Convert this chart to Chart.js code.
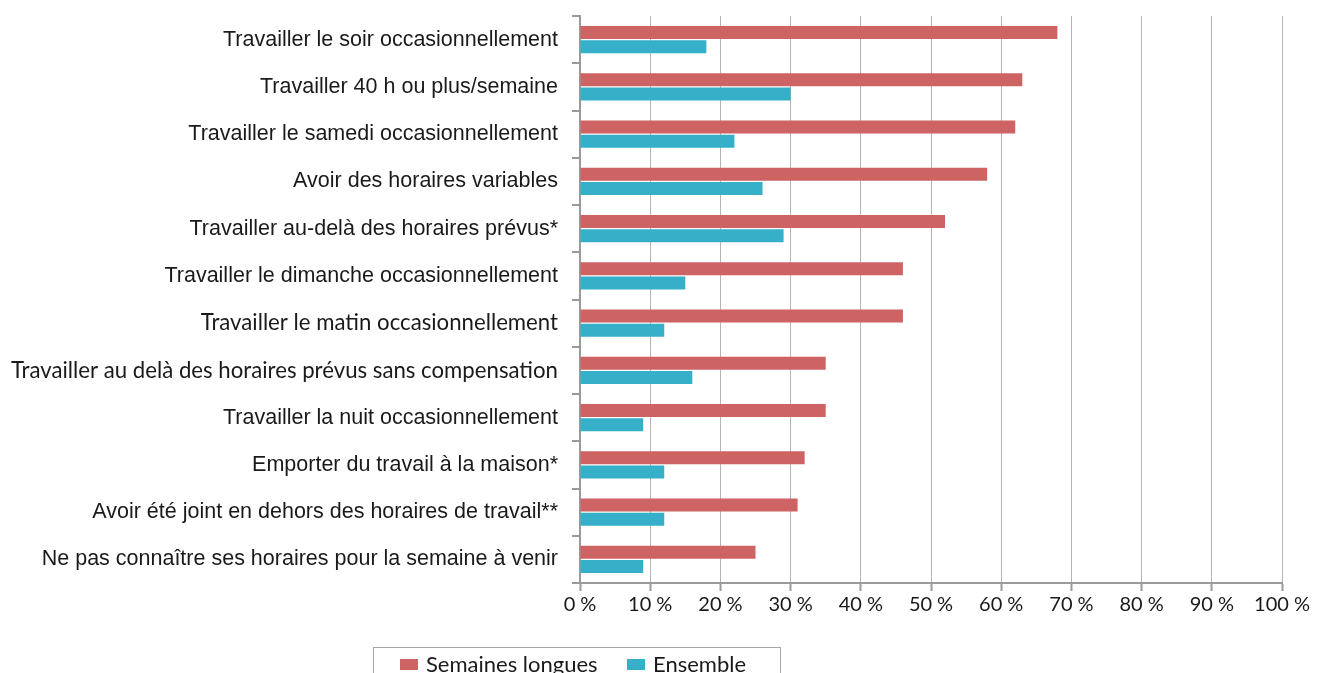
<!DOCTYPE html>
<html>
<head>
<meta charset="utf-8">
<script src="https://cdn.jsdelivr.net/npm/chart.js@4.4.1/dist/chart.umd.min.js"></script>
<style>
  html, body { margin: 0; padding: 0; background: #fff; }
  #wrap { position: relative; width: 1317px; height: 673px; overflow: hidden; }
  #legend {
    position: absolute; left: 373px; top: 647px; width: 408px; height: 40px;
    border: 1px solid #a6a6a6; box-sizing: border-box;
    font-family: Lato, sans-serif; font-size: 22px; color: #1a1a1a;
  }
  #legend span.item { position: absolute; top: 2px; white-space: nowrap; }
  #legend i { display: inline-block; width: 18px; height: 11px; margin-right: 8px; vertical-align: 2px; }
</style>
</head>
<body>
<div id="wrap">
  <canvas id="chart" width="1317" height="673"></canvas>
  <div id="legend"></div>
</div>
<script>
const categories = [
  'Travailler le soir occasionnellement',
  'Travailler 40 h ou plus/semaine',
  'Travailler le samedi occasionnellement',
  'Avoir des horaires variables',
  'Travailler au-delà des horaires prévus*',
  'Travailler le dimanche occasionnellement',
  'Travailler le matin occasionnellement',
  'Travailler au delà des horaires prévus sans compensation',
  'Travailler la nuit occasionnellement',
  'Emporter du travail à la maison*',
  'Avoir été joint en dehors des horaires de travail**',
  'Ne pas connaître ses horaires pour la semaine à venir'
];
const semainesLongues = [68, 63, 62, 58, 52, 46, 46, 35, 35, 32, 31, 25];
const ensemble = [18, 30, 22, 26, 29, 15, 12, 16, 9, 12, 12, 9];
const xTicks = [0, 10, 20, 30, 40, 50, 60, 70, 80, 90, 100];
// two labels were typed in another font in the source
const otherFont = [6, 7];

const datasets = [
  { label: 'Semaines longues', data: semainesLongues, backgroundColor: '#cd6363' },
  { label: 'Ensemble', data: ensemble, backgroundColor: '#35b0c8' }
];

new Chart(document.getElementById('chart'), {
  type: 'bar',
  data: { labels: categories, datasets: datasets },
  options: {
    indexAxis: 'y',
    responsive: false,
    animation: false,
    categoryPercentage: 0.6,
    barPercentage: 0.92,
    layout: { padding: { top: 16, right: 35, left: 0, bottom: 0 } },
    plugins: { legend: { display: false }, tooltip: { enabled: false } },
    scales: {
      x: {
        min: 0, max: 100,
        afterBuildTicks: (s) => { s.ticks = xTicks.map(v => ({ value: v })); },
        afterFit: (s) => { s.height = 90; },
        border: { color: '#9a9a9a', width: 2 },
        grid: { color: '#b4b4b4', lineWidth: 1, tickLength: 8, tickColor: '#9a9a9a', tickWidth: 2 },
        ticks: {
          padding: 2,
          color: '#1a1a1a',
          font: { family: 'Lato', size: 20 },
          callback: (v) => v + '\u202f%'
        }
      },
      y: {
        afterFit: (s) => { s.width = 580; s.paddingTop = 0; s.paddingBottom = 0; },
        border: { color: '#9a9a9a', width: 2 },
        grid: { drawOnChartArea: false, offset: true, tickLength: 8, color: '#9a9a9a', lineWidth: 2 },
        ticks: {
          padding: 14,
          color: '#1a1a1a',
          font: (ctx) => otherFont.includes(ctx.index)
            ? { family: 'Lato', size: 22.2 }
            : { family: 'Liberation Sans', size: 21.5 }
        }
      }
    }
  }
});

// legend box like the source one
const legend = document.getElementById('legend');
const lefts = [26, 253];
datasets.forEach((d, i) => {
  const s = document.createElement('span');
  s.className = 'item';
  s.style.left = lefts[i] + 'px';
  s.innerHTML = '<i style="background:' + d.backgroundColor + '"></i>' + d.label;
  legend.appendChild(s);
});
</script>
</body>
</html>
